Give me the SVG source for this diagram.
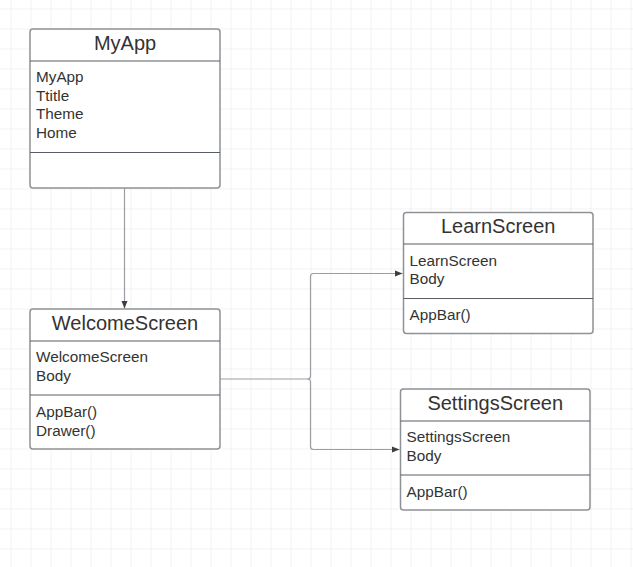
<svg xmlns="http://www.w3.org/2000/svg" width="633" height="567" viewBox="0 0 633 567">
<style>
.box{fill:#ffffff;stroke:#8e9297;stroke-width:1.5}
.sep{stroke:#595d63;stroke-width:1}
.title{font-family:"Liberation Sans",Arial,sans-serif;font-size:20px;fill:#333333;text-anchor:middle}
.txt{font-family:"Liberation Sans",Arial,sans-serif;font-size:15.3px;fill:#333333}
.conn{fill:none;stroke:#9a9ea3;stroke-width:1.2}
</style>
<defs>
<pattern id="grid" x="10.5" y="8.5" width="20" height="20" patternUnits="userSpaceOnUse">
<path d="M0,0 V20 M0,0 H20" fill="none" stroke="#e6e6e6" stroke-width="1"/>
</pattern>
<marker id="arr" viewBox="0 0 10 10" refX="10" refY="5" markerWidth="8" markerHeight="8" markerUnits="userSpaceOnUse" orient="auto">
<path d="M0,1 L10,5 L0,9 Z" fill="#3a3f45"/>
</marker>
</defs>
<rect width="633" height="567" fill="#ffffff"/>
<rect width="633" height="567" fill="url(#grid)"/>
<g id="connectors">
<path class="conn" d="M124.5,188 V308.5" marker-end="url(#arr)"/>
<path class="conn" d="M220,379 H307.5 Q310.5,379 310.5,376 V276.5 Q310.5,273.5 313.5,273.5 H402.5" marker-end="url(#arr)"/>
<path class="conn" d="M307.5,379 Q310.5,379 310.5,382 V446.5 Q310.5,449.5 313.5,449.5 H399.5" marker-end="url(#arr)"/>
</g>
<g id="MyApp">
<rect class="box" x="30" y="29" width="190" height="159" rx="3"/>
<line class="sep" x1="30" y1="61" x2="220" y2="61" stroke="#8e9297"/>
<line class="sep" x1="30" y1="152.5" x2="220" y2="152.5"/>
<text class="title" x="125" y="50">MyApp</text>
<text class="txt" x="36" y="82.3">MyApp</text>
<text class="txt" x="36" y="100.7">Ttitle</text>
<text class="txt" x="36" y="119">Theme</text>
<text class="txt" x="36" y="137.7">Home</text>
</g>
<g id="WelcomeScreen">
<rect class="box" x="30" y="309" width="190" height="140" rx="3"/>
<line class="sep" x1="30" y1="341" x2="220" y2="341" stroke="#8e9297"/>
<line class="sep" x1="30" y1="395" x2="220" y2="395"/>
<text class="title" x="125" y="329.5">WelcomeScreen</text>
<text class="txt" x="36" y="362.3">WelcomeScreen</text>
<text class="txt" x="36" y="380.7">Body</text>
<text class="txt" x="36" y="417.3">AppBar()</text>
<text class="txt" x="36" y="435.7">Drawer()</text>
</g>
<g id="LearnScreen">
<rect class="box" x="403.5" y="212.5" width="189.5" height="121" rx="3"/>
<line class="sep" x1="403.5" y1="244" x2="593" y2="244" stroke="#8e9297"/>
<line class="sep" x1="403.5" y1="298.5" x2="593" y2="298.5"/>
<text class="title" x="498.2" y="232.8">LearnScreen</text>
<text class="txt" x="409.5" y="265.7">LearnScreen</text>
<text class="txt" x="409.5" y="284">Body</text>
<text class="txt" x="409.5" y="320">AppBar()</text>
</g>
<g id="SettingsScreen">
<rect class="box" x="400.5" y="389" width="189.5" height="121" rx="3"/>
<line class="sep" x1="400.5" y1="421" x2="590" y2="421" stroke="#8e9297"/>
<line class="sep" x1="400.5" y1="475" x2="590" y2="475"/>
<text class="title" x="495.2" y="409.5">SettingsScreen</text>
<text class="txt" x="406.5" y="442.3">SettingsScreen</text>
<text class="txt" x="406.5" y="460.7">Body</text>
<text class="txt" x="406.5" y="496.7">AppBar()</text>
</g>
</svg>
